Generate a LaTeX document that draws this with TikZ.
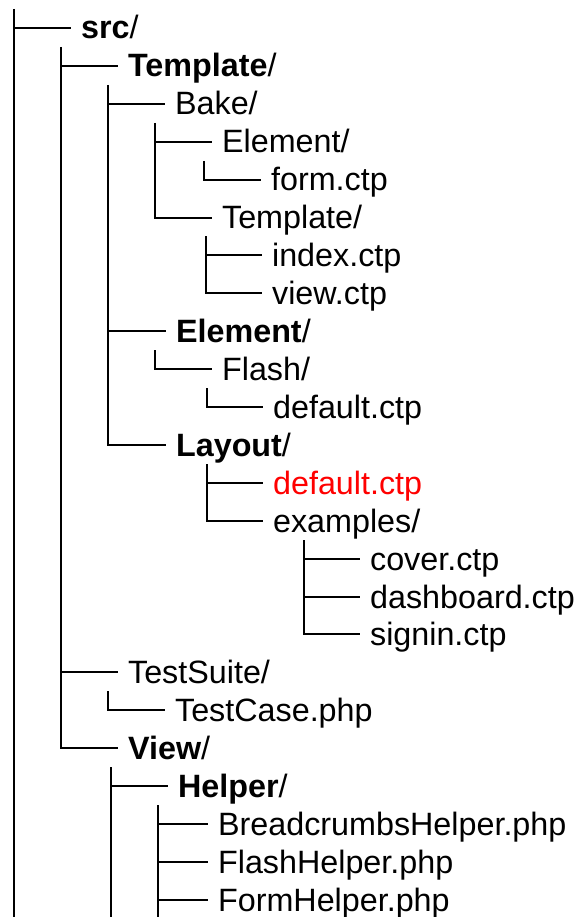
\documentclass[tikz,border=0pt]{standalone}
\usepackage{fontspec}
\setmainfont{Liberation Sans}

\begin{document}
\begin{tikzpicture}[x=1pt, y=-1pt, line width=2.2pt,
    entry/.style={anchor=west, inner sep=0pt, text height=22pt, text depth=0pt, font=\fontsize{32.3}{38}\selectfont},
    twig/.style={shorten >=9pt}]
    \useasboundingbox (0,0) rectangle (576,917);

    \node[entry] (src) at (80,28) {\textbf{src}/};
    \node[entry] (tpl) at (127,66) {\textbf{Template}/};
    \node[entry] (bake) at (174,104) {Bake/};
    \node[entry] (bakeel) at (221,142) {Element/};
    \node[entry] (form) at (270,180) {form.ctp};
    \node[entry] (baketpl) at (221,218) {Template/};
    \node[entry] (index) at (271,255) {index.ctp};
    \node[entry] (view) at (271,293) {view.ctp};
    \node[entry] (el) at (175,331) {\textbf{Element}/};
    \node[entry] (flash) at (221,369) {Flash/};
    \node[entry] (flashdef) at (272,407) {default.ctp};
    \node[entry] (lay) at (175,445) {\textbf{Layout}/};
    \node[entry, text=red] (laydef) at (272,483) {default.ctp};
    \node[entry] (ex) at (272,521) {examples/};
    \node[entry] (cover) at (369,559) {cover.ctp};
    \node[entry] (dash) at (369,597) {dashboard.ctp};
    \node[entry] (signin) at (369,634) {signin.ctp};
    \node[entry] (suite) at (127,672) {TestSuite/};
    \node[entry] (case) at (174,710) {TestCase.php};
    \node[entry] (viewdir) at (127,748) {\textbf{View}/};
    \node[entry] (helper) at (177,786) {\textbf{Helper}/};
    \node[entry] (crumbs) at (217,824) {BreadcrumbsHelper.php};
    \node[entry] (flashh) at (217,862) {FlashHelper.php};
    \node[entry] (formh) at (217,900) {FormHelper.php};

    \coordinate (bot) at (0,917);
    \coordinate (srcT) at (14,9);
    \coordinate (tplT) at (61,47);
    \coordinate (bakeT) at (108,85);
    \coordinate (bakeelT) at (155,123);
    \coordinate (formT) at (204,161);
    \coordinate (baketplT) at (206,236);
    \coordinate (elT) at (155,350);
    \coordinate (flashT) at (207,388);
    \coordinate (layT) at (207,464);
    \coordinate (exT) at (304,540);
    \coordinate (caseT) at (108,691);
    \coordinate (viewT) at (111,767);
    \coordinate (helperT) at (158,805);

    \draw (srcT) -- (srcT |- bot);
    \draw[twig] (src.west -| srcT) -- (src.west);

    \draw[twig] (tplT) |- (viewdir.west);
    \draw[twig] (tpl.west -| tplT) -- (tpl.west);
    \draw[twig] (suite.west -| tplT) -- (suite.west);

    \draw[twig] (bakeT) |- (lay.west);
    \draw[twig] (bake.west -| bakeT) -- (bake.west);
    \draw[twig] (el.west -| bakeT) -- (el.west);

    \draw[twig] (bakeelT) |- (baketpl.west);
    \draw[twig] (bakeel.west -| bakeelT) -- (bakeel.west);
    \draw[twig] (formT) |- (form.west);
    \draw[twig] (baketplT) |- (view.west);
    \draw[twig] (index.west -| baketplT) -- (index.west);

    \draw[twig] (elT) |- (flash.west);
    \draw[twig] (flashT) |- (flashdef.west);

    \draw[twig] (layT) |- (ex.west);
    \draw[twig] (laydef.west -| layT) -- (laydef.west);
    \draw[twig] (exT) |- (signin.west);
    \draw[twig] (cover.west -| exT) -- (cover.west);
    \draw[twig] (dash.west -| exT) -- (dash.west);

    \draw[twig] (caseT) |- (case.west);

    \draw (viewT) -- (viewT |- bot);
    \draw[twig] (helper.west -| viewT) -- (helper.west);
    \draw (helperT) -- (helperT |- bot);
    \draw[twig] (crumbs.west -| helperT) -- (crumbs.west);
    \draw[twig] (flashh.west -| helperT) -- (flashh.west);
    \draw[twig] (formh.west -| helperT) -- (formh.west);
\end{tikzpicture}
\end{document}
